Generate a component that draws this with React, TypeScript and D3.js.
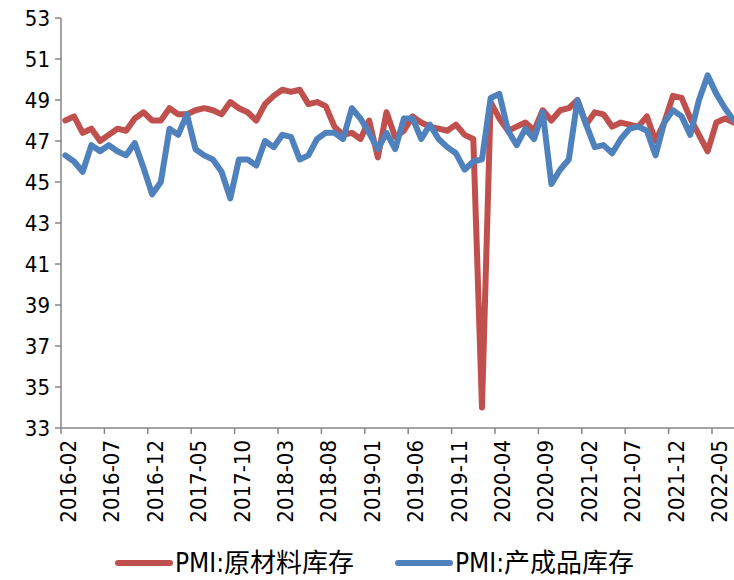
import * as d3 from 'd3';
import { useEffect, useRef } from 'react';

// monthly categories, 2016-02 .. 2022-07
const months: string[] = d3
  .timeMonths(new Date(2016, 1, 1), new Date(2022, 7, 1))
  .map((d) => d3.timeFormat('%Y-%m')(d));

const yTicks = [33, 35, 37, 39, 41, 43, 45, 47, 49, 51, 53];

// PMI:原材料库存
const rawStock = [
  48.0, 48.2, 47.4, 47.6, 47.0, 47.3, 47.6, 47.5, 48.1, 48.4, 48.0, 48.0,
  48.6, 48.3, 48.3, 48.5, 48.6, 48.5, 48.3, 48.9, 48.6, 48.4, 48.0, 48.8,
  49.2, 49.5, 49.4, 49.5, 48.8, 48.9, 48.7, 47.7, 47.3, 47.4, 47.1, 48.0,
  46.2, 48.4, 47.2, 47.5, 48.2, 47.9, 47.7, 47.6, 47.5, 47.8, 47.3, 47.1,
  34.0, 48.9, 48.1, 47.5, 47.7, 47.9, 47.5, 48.5, 48.0, 48.5, 48.6, 49.0,
  47.8, 48.4, 48.3, 47.7, 47.9, 47.8, 47.7, 48.2, 47.0, 47.9, 49.2, 49.1,
  48.1, 47.3, 46.5, 47.9, 48.1, 47.9,
];

// PMI:产成品库存
const finishedStock = [
  46.3, 46.0, 45.5, 46.8, 46.5, 46.8, 46.5, 46.3, 46.9, 45.7, 44.4, 45.0,
  47.6, 47.3, 48.3, 46.6, 46.3, 46.1, 45.5, 44.2, 46.1, 46.1, 45.8, 47.0,
  46.7, 47.3, 47.2, 46.1, 46.3, 47.1, 47.4, 47.4, 47.1, 48.6, 48.1, 47.4,
  46.6, 47.4, 46.6, 48.1, 48.1, 47.1, 47.8, 47.1, 46.7, 46.4, 45.6, 46.0,
  46.1, 49.1, 49.3, 47.5, 46.8, 47.6, 47.1, 48.4, 44.9, 45.6, 46.1, 49.0,
  47.8, 46.7, 46.8, 46.4, 47.1, 47.6, 47.7, 47.5, 46.3, 47.9, 48.5, 48.2,
  47.3, 49.0, 50.2, 49.3, 48.6, 48.0,
];

const seriesNames = ['PMI:原材料库存', 'PMI:产成品库存'];
const colors = ['#C0504D', '#4F81BD'];

export default function App() {
  const svgRef = useRef<SVGSVGElement>(null);

  useEffect(() => {
    if (!svgRef.current) return;
    const width = 734;
    const height = 580;
    const font = "'Liberation Sans Narrow', 'DejaVu Sans Condensed', 'Noto Sans CJK SC', sans-serif";

    const svg = d3.select(svgRef.current).attr('width', width).attr('height', height);
    svg.selectAll('*').remove();

    const x = d3.scaleBand<string>().domain(months).range([61, 61 + months.length * 8.68]);
    const y = d3.scaleLinear().domain([33, 53]).range([428, 18]);
    const cx = (i: number) => (x(months[i]) as number) + x.bandwidth() / 2;

    // y axis
    svg.append('line')
      .attr('x1', 61).attr('x2', 61).attr('y1', y(53)).attr('y2', y(33))
      .attr('stroke', '#868686').attr('stroke-width', 1.5);
    yTicks.forEach((t) => {
      svg.append('line')
        .attr('x1', 55).attr('x2', 61).attr('y1', y(t)).attr('y2', y(t))
        .attr('stroke', '#868686').attr('stroke-width', 1.5);
      svg.append('text')
        .attr('x', 50).attr('y', y(t)).attr('dy', '0.35em')
        .attr('text-anchor', 'end')
        .attr('font-family', font).attr('font-size', 22).attr('fill', '#000')
        .text(t);
    });

    // x axis
    svg.append('line')
      .attr('x1', 61).attr('x2', width).attr('y1', y(33)).attr('y2', y(33))
      .attr('stroke', '#868686').attr('stroke-width', 1.5);
    months.forEach((m, i) => {
      if (i % 5 !== 0) return;
      const x0 = x(m) as number;
      svg.append('line')
        .attr('x1', x0).attr('x2', x0).attr('y1', y(33)).attr('y2', y(33) + 6)
        .attr('stroke', '#868686').attr('stroke-width', 1.5);
      svg.append('text')
        .attr('transform', `translate(${cx(i) + 3},${y(33) + 12}) rotate(-90)`)
        .attr('text-anchor', 'end').attr('dy', '0.35em')
        .attr('font-family', font).attr('font-size', 22).attr('fill', '#000')
        .text(m);
    });

    const line = d3.line<number>()
      .x((d, i) => cx(i))
      .y((d) => y(d));

    [rawStock, finishedStock].forEach((s, k) => {
      svg.append('path')
        .datum(s)
        .attr('fill', 'none')
        .attr('stroke', colors[k])
        .attr('stroke-width', 6)
        .attr('stroke-linejoin', 'round')
        .attr('stroke-linecap', 'round')
        .attr('d', line);
    });

    // legend
    const legendX = [118, 398];
    seriesNames.forEach((name, k) => {
      svg.append('line')
        .attr('x1', legendX[k]).attr('x2', legendX[k] + 52)
        .attr('y1', 563).attr('y2', 563)
        .attr('stroke', colors[k]).attr('stroke-width', 6)
        .attr('stroke-linecap', 'round');
      svg.append('text')
        .attr('x', legendX[k] + 57).attr('y', 563).attr('dy', '0.35em')
        .attr('font-family', font).attr('font-size', 26).attr('fill', '#000')
        .text(name);
    });
  }, []);

  return (
    <div style={{ position: 'fixed', left: 0, top: 0, background: '#fff' }}>
      <svg ref={svgRef}></svg>
    </div>
  );
}
